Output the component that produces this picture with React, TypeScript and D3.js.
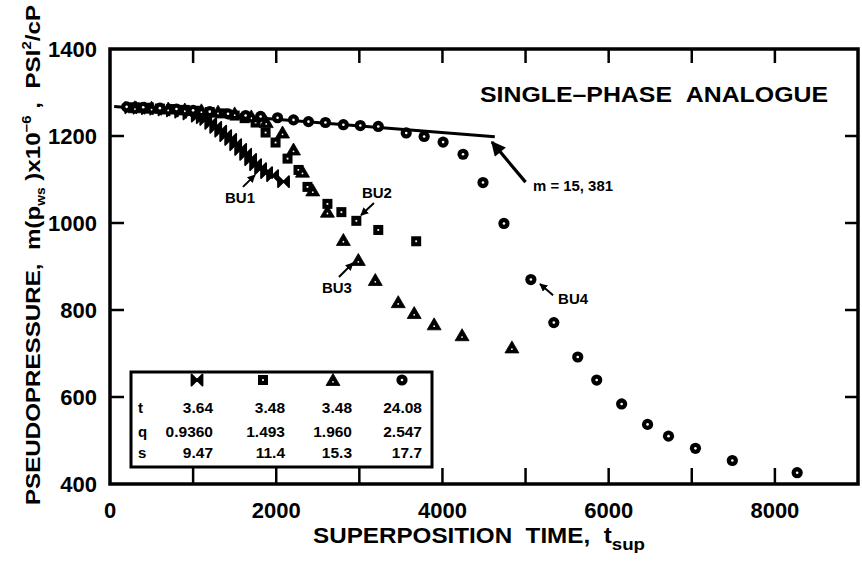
import React from "react";
import * as d3 from "d3";

// ---- data (superposition time, pseudopressure x1e-6) ----
const bu1T = [250, 350, 450, 550, 650, 750, 850, 950, 1050, 1110, 1152, 1212, 1272, 1332, 1392, 1452, 1512, 1572, 1632, 1692, 1752, 1812, 1884, 1956, 2088];
const bu1V = [1265, 1264, 1263, 1262, 1260, 1258, 1255, 1251, 1246, 1242, 1238, 1229, 1220, 1211, 1201, 1192, 1180, 1169, 1158, 1146, 1134, 1125, 1116, 1109, 1095];

const bu2T = [300, 450, 600, 750, 900, 1050, 1200, 1350, 1500, 1620, 1752, 1872, 1992, 2136, 2268, 2376, 2616, 2784, 2964, 3228, 3684];
const bu2V = [1266, 1265, 1263, 1262, 1260, 1258, 1255, 1252, 1247, 1241, 1231, 1208, 1185, 1148, 1122, 1083, 1044, 1025, 1005, 984, 958];

const bu3T = [300, 500, 700, 900, 1100, 1300, 1500, 1700, 1880, 2076, 2208, 2316, 2440, 2616, 2808, 2988, 3192, 3468, 3660, 3900, 4236, 4836];
const bu3V = [1266, 1265, 1263, 1261, 1259, 1256, 1252, 1245, 1232, 1208, 1169, 1118, 1075, 1026, 961, 915, 869, 818, 793, 767, 742, 714];

const bu4T = [200, 400, 600, 800, 1000, 1200, 1420, 1632, 1812, 2016, 2208, 2388, 2592, 2808, 3012, 3228, 3564, 3780, 4008, 4248, 4488, 4740, 5064, 5340, 5628, 5856, 6156, 6468, 6720, 7044, 7488, 8268];
const bu4V = [1267, 1266, 1264, 1262, 1259, 1256, 1251, 1247, 1245, 1242, 1237, 1233, 1231, 1226, 1224, 1222, 1207, 1199, 1186, 1158, 1093, 999, 870, 771, 692, 639, 584, 537, 510, 482, 454, 426];

const lineT = [50, 4630];
const lineV = [1268, 1198];

const xTickLabels = [0, 2000, 4000, 6000, 8000];
const xTicks = [1000, 2000, 3000, 4000, 5000, 6000, 7000, 8000];
const yTickLabels = [400, 600, 800, 1000, 1200, 1400];
const yTicks = [600, 800, 1000, 1200];

const tableRows = ["t", "q", "s"];
const tableT = ["3.64", "3.48", "3.48", "24.08"];
const tableQ = ["0.9360", "1.493", "1.960", "2.547"];
const tableS = ["9.47", "11.4", "15.3", "17.7"];
const symbols = ["bowtie", "square", "triangle", "circle"];

const FONT = "'Liberation Sans', Arial, Helvetica, sans-serif";

function Marker({ kind, cx, cy }: { kind: string; cx: number; cy: number }) {
  if (kind === "circle") {
    return (
      <g transform={`translate(${cx},${cy})`}>
        <circle r={5.6} fill="#000" />
        <circle r={1.3} fill="#fff" />
      </g>
    );
  }
  if (kind === "square") {
    return (
      <g transform={`translate(${cx},${cy})`}>
        <rect x={-5} y={-5} width={10} height={10} fill="#000" />
        <rect x={-0.9} y={-0.9} width={1.8} height={1.8} fill="#fff" />
      </g>
    );
  }
  if (kind === "triangle") {
    return (
      <g transform={`translate(${cx},${cy})`}>
        <path d="M0,-6.5 L7,5.5 L-7,5.5 Z" fill="#000" stroke="#000" strokeWidth={0.8} strokeLinejoin="round" />
        <circle cx={0} cy={1.8} r={0.9} fill="#fff" />
      </g>
    );
  }
  // bowtie
  return (
    <g transform={`translate(${cx},${cy})`}>
      <path d="M-5.5,-5.5 L0,0 L-5.5,5.5 Z M5.5,-5.5 L0,0 L5.5,5.5 Z" fill="#000" stroke="#000" strokeWidth={1.8} strokeLinejoin="round" />
    </g>
  );
}

export default function App() {
  const W = 862, H = 563;
  const x = d3.scaleLinear().domain([0, 9000]).range([110, 858]);
  const y = d3.scaleLinear().domain([400, 1400]).range([484, 49]);
  const [x0, x1] = x.range();
  const [yb, yt] = y.range();

  const series = [
    { kind: "bowtie", t: bu1T, v: bu1V },
    { kind: "square", t: bu2T, v: bu2V },
    { kind: "triangle", t: bu3T, v: bu3V },
    { kind: "circle", t: bu4T, v: bu4V },
  ];

  const linePath = d3.line<number>().x((d, i) => x(lineT[i])).y((d, i) => y(lineV[i]))(lineT)!;

  // annotations in data units
  const mArrow = { t0: 5000, v0: 1094, t1: 4596, v1: 1186 };
  const buLabels = [
    { text: "BU1", t: 1564, v: 1060, a0: [1600, 1083], a1: [1744, 1110] },
    { text: "BU2", t: 3212, v: 1071, a0: [3176, 1046], a1: [3020, 1018] },
    { text: "BU3", t: 2731, v: 853, a0: [2755, 876], a1: [2923, 908] },
    { text: "BU4", t: 5572, v: 828, a0: [5331, 834], a1: [5174, 860] },
  ];

  // table geometry
  const tbl = { x: 131, y: 372, w: 301, h: 95 };
  const colRight = [213, 285, 352, 422];
  const colSym = [197, 263, 333, 402];
  const rowBase = [413, 437, 458];
  const rows = [tableT, tableQ, tableS];

  return (
    <svg width={W} height={H} style={{ position: "absolute", left: 0, top: 0, background: "#fff" }} fontFamily={FONT} fontWeight="bold">
      <defs>
        <marker id="bigHead" viewBox="0 0 10 10" refX="9" refY="5" markerWidth="5" markerHeight="4.5" orient="auto" markerUnits="strokeWidth">
          <path d="M0,0 L10,5 L0,10 Z" fill="#000" />
        </marker>
        <marker id="smallHead" viewBox="0 0 10 10" refX="9" refY="5" markerWidth="4" markerHeight="4" orient="auto" markerUnits="strokeWidth">
          <path d="M0,0 L10,5 L0,10 Z" fill="#000" />
        </marker>
      </defs>
      <rect x={0} y={0} width={W} height={H} fill="#fff" />

      {/* frame */}
      <rect x={x0} y={yt} width={x1 - x0} height={yb - yt} fill="none" stroke="#000" strokeWidth={3.5} />

      {/* x ticks bottom and top */}
      {xTicks.map((t) => (
        <g key={"xt" + t}>
          <line x1={x(t)} x2={x(t)} y1={yb} y2={yb - 16} stroke="#000" strokeWidth={2.5} />
          <line x1={x(t)} x2={x(t)} y1={yt} y2={yt + 14} stroke="#000" strokeWidth={2.5} />
        </g>
      ))}
      {/* y ticks left and right */}
      {yTicks.map((v) => (
        <g key={"yt" + v}>
          <line x1={x0} x2={x0 + 14} y1={y(v)} y2={y(v)} stroke="#000" strokeWidth={2.5} />
          <line x1={x1} x2={x1 - 13} y1={y(v)} y2={y(v)} stroke="#000" strokeWidth={2.5} />
        </g>
      ))}

      {/* tick labels */}
      {xTickLabels.map((t) => (
        <text key={"xl" + t} x={x(t)} y={518} textAnchor="middle" fontSize={22}>{t}</text>
      ))}
      {yTickLabels.map((v) => (
        <text key={"yl" + v} x={97} y={y(v) + 8} textAnchor="end" fontSize={22}>{v}</text>
      ))}

      {/* axis titles */}
      <text x={313} y={543} fontSize={22} textLength={332} lengthAdjust="spacingAndGlyphs">
        SUPERPOSITION{"\u00A0\u00A0"}TIME,{"\u00A0\u00A0"}t<tspan fontSize={17} dy={7}>sup</tspan>
      </text>
      <text transform="translate(40,255) rotate(-90)" textAnchor="middle" fontSize={21} textLength={500} lengthAdjust="spacingAndGlyphs">
        PSEUDOPRESSURE,{"\u00A0\u00A0"}m(p<tspan fontSize={12} dy={5}>ws</tspan><tspan dy={-5}>{"\u00A0"})x10</tspan><tspan fontSize={13} dy={-9}>{"\u2212"}6</tspan><tspan dy={9}>{"\u00A0"},{"\u00A0\u00A0"}PSI</tspan><tspan fontSize={13} dy={-9}>2</tspan><tspan dy={9}>/cP</tspan>
      </text>

      {/* chart title */}
      <text x={480} y={102} fontSize={22} textLength={348} lengthAdjust="spacingAndGlyphs">
        SINGLE{"\u2013"}PHASE{"\u00A0\u00A0"}ANALOGUE
      </text>

      {/* straight line */}
      <path d={linePath} fill="none" stroke="#000" strokeWidth={3} />

      {/* data */}
      {series.map((s) => (
        <g key={s.kind}>
          {s.t.map((t, i) => (
            <Marker key={i} kind={s.kind} cx={x(t)} cy={y(s.v[i])} />
          ))}
        </g>
      ))}

      {/* m arrow */}
      <line x1={x(mArrow.t0)} y1={y(mArrow.v0)} x2={x(mArrow.t1)} y2={y(mArrow.v1)} stroke="#000" strokeWidth={3.2} markerEnd="url(#bigHead)" />
      <text x={533} y={191} fontSize={15} textLength={80} lengthAdjust="spacingAndGlyphs">m = 15, 381</text>

      {/* BU labels */}
      {buLabels.map((b) => (
        <g key={b.text}>
          <text x={x(b.t)} y={y(b.v) + 6} textAnchor="middle" fontSize={15}>{b.text}</text>
          <line x1={x(b.a0[0])} y1={y(b.a0[1])} x2={x(b.a1[0])} y2={y(b.a1[1])} stroke="#000" strokeWidth={2} markerEnd="url(#smallHead)" />
        </g>
      ))}

      {/* table */}
      <rect x={tbl.x} y={tbl.y} width={tbl.w} height={tbl.h} fill="#fff" stroke="#000" strokeWidth={3} />
      {symbols.map((k, i) => (
        <Marker key={"sym" + k} kind={k} cx={colSym[i]} cy={380} />
      ))}
      {tableRows.map((r, ri) => (
        <g key={"row" + r}>
          <text x={138} y={rowBase[ri]} fontSize={15}>{r}</text>
          {rows[ri].map((val, ci) => (
            <text key={ci} x={colRight[ci]} y={rowBase[ri]} textAnchor="end" fontSize={15.5}>{val}</text>
          ))}
        </g>
      ))}
    </svg>
  );
}
